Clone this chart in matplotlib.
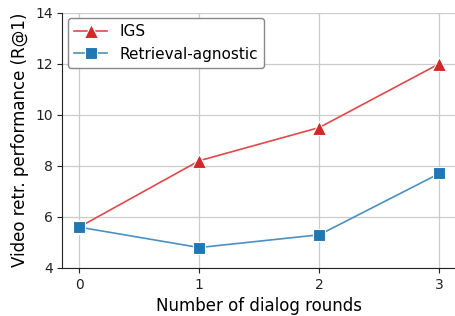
import numpy as np
import matplotlib.pyplot as plt

rounds = [0, 1, 2, 3]
igs = [5.6, 8.2, 9.5, 12.0]
agnostic = [5.6, 4.8, 5.3, 7.7]

fig, ax = plt.subplots(figsize=(4.55, 3.16), dpi=100)
fig.subplots_adjust(left=0.137, right=1.0, top=0.96, bottom=0.152)

ax.plot(rounds, igs, color='#e8474a', lw=1.2, marker='^', ms=10,
        mfc='#d62728', mec='white', mew=0.8, label='IGS', zorder=3)
ax.plot(rounds, agnostic, color='#4a90c4', lw=1.2, marker='s', ms=9,
        mfc='#1f77b4', mec='white', mew=0.8, label='Retrieval-agnostic', zorder=3)

ax.set_xlim(-0.14, 3.13)
ax.set_ylim(4, 14)
ax.set_xticks(rounds)
ax.set_yticks([4, 6, 8, 10, 12, 14])
ax.grid(True, color='#cccccc', lw=0.9)
ax.set_axisbelow(True)
for s in ['top', 'right']:
    ax.spines[s].set_visible(False)
ax.spines['left'].set_color('#222222')
ax.spines['bottom'].set_color('#222222')
ax.tick_params(labelsize=10, colors='#222222')

ax.set_xlabel('Number of dialog rounds', fontsize=12)
ax.set_ylabel('Video retr. performance (R@1)', fontsize=12)
ax.legend(loc='upper left', fontsize=11, framealpha=1, edgecolor='#888888',
          borderaxespad=0.35, handlelength=2.2)

fig.savefig('out.png', dpi=100)
